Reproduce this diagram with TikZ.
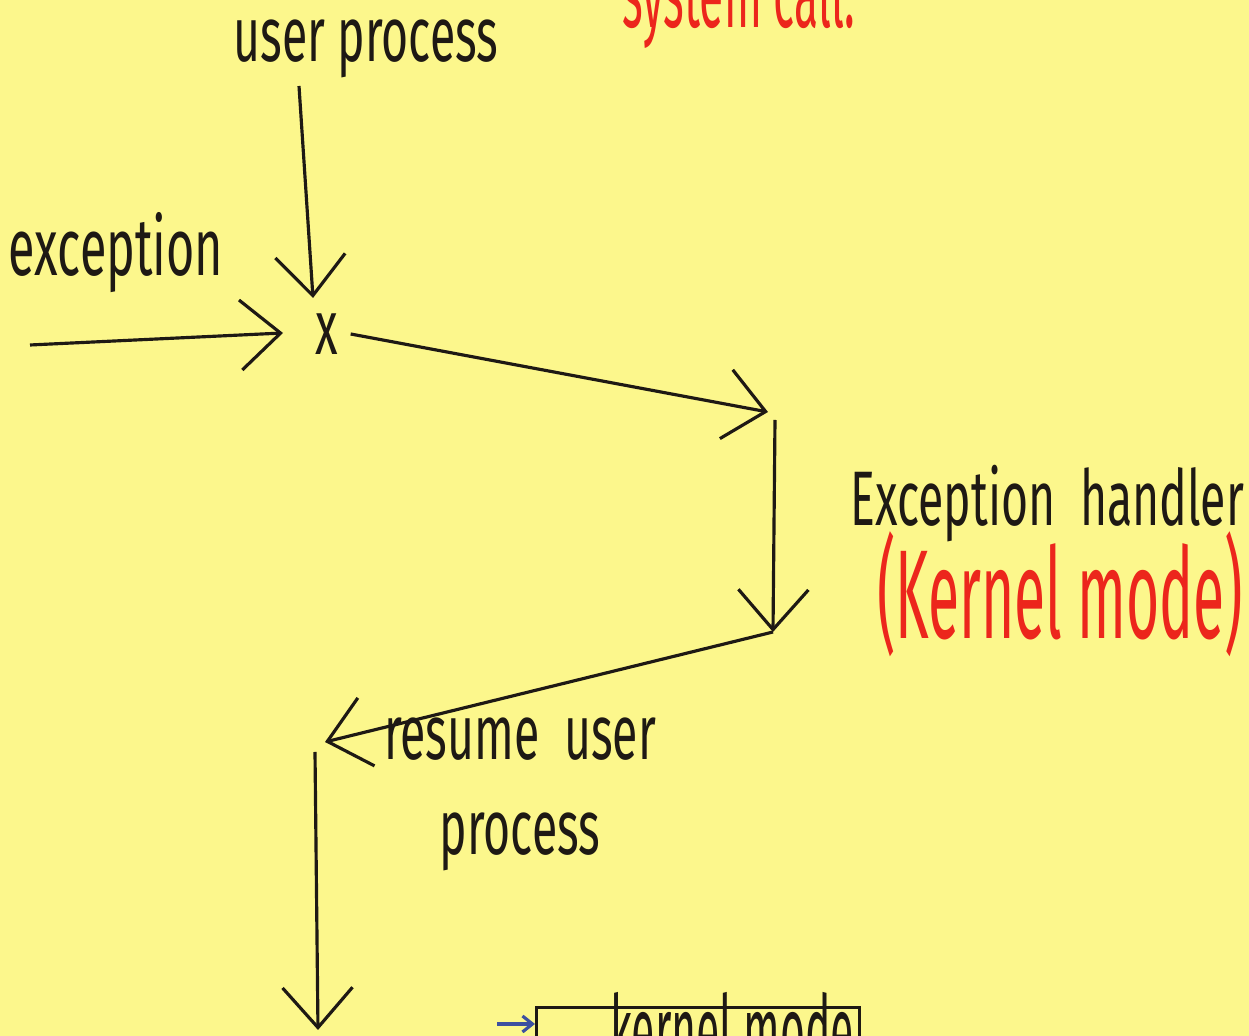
\documentclass[tikz,border=0pt]{standalone}
\usepackage{fontspec}
\setmainfont{Fira Sans}
\newfontfamily\handfont[FakeStretch=0.6]{Fira Sans}
\newfontfamily\handfontn[FakeStretch=0.45]{Fira Sans}
\usetikzlibrary{arrows.meta}
\definecolor{paper}{RGB}{252,247,140}
\definecolor{pen}{RGB}{30,25,20}
\definecolor{redpen}{RGB}{236,38,28}
\definecolor{bluepen}{RGB}{60,80,160}
\tikzset{
    edgen/.style = {-{Straight Barb[length=4mm,width=7mm]},line width=0.9pt,draw=pen},
    edgeb/.style = {-{Straight Barb[length=1mm,width=1.6mm]},line width=0.9pt,draw=bluepen},
    mytext/.style = {text=pen,font=\handfont\fontsize{22}{27}\selectfont,align=center},
    mytextr/.style = {text=redpen,font=\handfontn\fontsize{36}{42}\selectfont},
    boxn/.style = {line width=0.9pt,draw=pen}
}
\begin{document}
\begin{tikzpicture}
\clip (0,0) rectangle (12.49,10.36);
\fill[paper] (0,0) rectangle (12.49,10.36);
%
\node[mytextr, anchor=base west, font=\handfontn\fontsize{28}{32}\selectfont] at (6.1,10.08) (syscall) {system call.};
\node[mytext] at (3.66,9.87) (userproc) {user process};
\node[mytext, font=\handfont\fontsize{23}{27}\selectfont] at (1.16,7.83) (excep) {exception};
\node[mytext] at (3.27,7.02) (X) {x};
\node[mytext, anchor=west, font=\handfont\fontsize{22}{26}\selectfont] at (8.38,5.32) (handler) {Exception\ \ handler};
\node[mytextr] at (10.6,4.42) (kmode) {(Kernel mode)};
\node[mytext] at (5.2,2.42) (resume) {resume\ \ user\\process};
%
\coordinate (uptop) at (2.99,9.5);
\coordinate (exstart) at (0.3,6.91);
\coordinate (htop) at (7.68,6.24);
\coordinate (hbot) at (7.73,4.04);
\coordinate (hstart) at (7.75,6.16);
\coordinate (rtop) at (3.25,2.94);
\coordinate (rstart) at (3.15,2.84);
\coordinate (rbot) at (3.18,0.06);
\coordinate (bstart) at (4.97,0.12);
%
\draw[edgen] (uptop) -- (3.13,7.38);
\draw[edgen] (exstart) -- (2.83,7.03);
\draw[edgen] (X.east) -- (htop);
\draw[edgen] (hstart) -- (hbot);
\draw[edgen] (hbot) -- (rtop);
\draw[edgen] (rstart) -- (rbot);
%
\node[boxn, minimum width=3.23cm, minimum height=1cm, anchor=north west] at (5.35,0.3) (kbox) {};
\node[mytext, anchor=base west, font=\handfontn\fontsize{27}{32}\selectfont] at (5.98,-0.28) (ktext) {kernel mode};
\draw[edgeb] (bstart) -- (kbox.west |- bstart);

\end{tikzpicture}
\end{document}
